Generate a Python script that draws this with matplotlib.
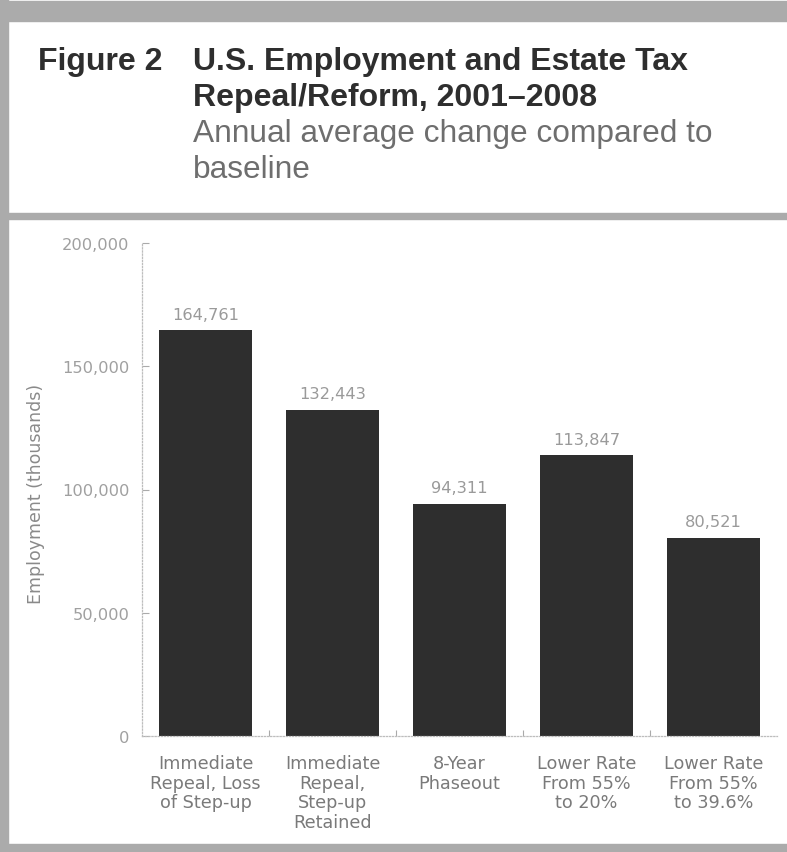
import matplotlib
matplotlib.use("Agg")
import matplotlib.pyplot as plt
from matplotlib.patches import Rectangle
from matplotlib.ticker import FuncFormatter, FixedLocator
import numpy as np

# Data
categories = [
    "Immediate\nRepeal, Loss\nof Step-up",
    "Immediate\nRepeal,\nStep-up\nRetained",
    "8-Year\nPhaseout",
    "Lower Rate\nFrom 55%\nto 20%",
    "Lower Rate\nFrom 55%\nto 39.6%",
]
employment = [164761, 132443, 94311, 113847, 80521]
y_ticks = [0, 50000, 100000, 150000, 200000]

W, H = 787, 853
fig = plt.figure(figsize=(W / 100, H / 100), dpi=100)
fig.patch.set_facecolor("white")


def px(x, y):
    """Pixel position (from top-left) to figure fraction."""
    return x / W, 1 - y / H


# Frame bands around the figure
band_color = "#ababab"
for (x0, y0, w, h) in [(0, 2, W, 20), (0, 214, W, 6), (0, 845, W, 7), (0, 0, 8, H)]:
    fig.patches.append(Rectangle((x0 / W, 1 - (y0 + h) / H), w / W, h / H,
                                 transform=fig.transFigure, color=band_color,
                                 zorder=0))

# Title block
title_font = "Liberation Sans"
title_color = "#2e2e2e"
fig.text(*px(38, 70), "Figure 2", family=title_font, fontsize=23,
         weight="bold", color=title_color, va="baseline", ha="left")
fig.text(*px(193, 70), "U.S. Employment and Estate Tax", family=title_font,
         fontsize=23, weight="bold", color=title_color, va="baseline", ha="left")
fig.text(*px(193, 106), "Repeal/Reform, 2001\u20132008", family=title_font,
         fontsize=23, weight="bold", color=title_color, va="baseline", ha="left")
fig.text(*px(193, 142), "Annual average change compared to", family=title_font,
         fontsize=22.8, color="#6e6e6e", va="baseline", ha="left")
fig.text(*px(193, 178), "baseline", family=title_font,
         fontsize=22.8, color="#6e6e6e", va="baseline", ha="left")

# Plot area
ax = fig.add_axes([142 / W, (H - 737) / H, (777 - 142) / W, (737 - 244) / H])
ax.set_facecolor("none")
x = np.arange(len(categories))
bars = ax.bar(x, employment, width=0.727, color="#2e2e2e", zorder=2)

ax.set_xlim(-0.5, len(categories) - 0.5)
ax.set_ylim(0, 200000)

for xi, v in zip(x, employment):
    ax.annotate(f"{v:,}", (xi, v), xytext=(0, 6), textcoords="offset points",
                ha="center", va="bottom", fontsize=11.7, color="#9a9a9a",
                family="DejaVu Sans")

for side in ("top", "right"):
    ax.spines[side].set_visible(False)
for side in ("left", "bottom"):
    ax.spines[side].set_color("#bdbdbd")
    ax.spines[side].set_linestyle((0, (1, 1.5)))
    ax.spines[side].set_linewidth(0.9)

ax.yaxis.set_major_locator(FixedLocator(y_ticks))
ax.yaxis.set_major_formatter(FuncFormatter(lambda v, p: f"{int(v):,}"))
ax.tick_params(axis="y", direction="in", length=5, width=0.8, color="#aaaaaa",
               labelsize=11.7, labelcolor="#a0a0a0", pad=9)

ax.set_xticks(x)
ax.set_xticklabels(categories)
ax.xaxis.set_minor_locator(FixedLocator(np.arange(0.5, len(categories) - 0.5, 1)))
ax.tick_params(axis="x", which="major", length=0, pad=13,
               labelsize=12.7, labelcolor="#7a7a7a")
ax.tick_params(axis="x", which="minor", direction="in", length=4, width=0.8,
               color="#aaaaaa")
for lbl in ax.get_xticklabels():
    lbl.set_linespacing(1.12)
    lbl.set_family("DejaVu Sans")
for lbl in ax.get_yticklabels():
    lbl.set_family("DejaVu Sans")

fig.text(*px(36, 494), "Employment (thousands)", rotation=90, ha="center",
         va="center", fontsize=12.5, color="#8a8a8a", family="DejaVu Sans")

fig.savefig("out.png", dpi=100, facecolor=fig.get_facecolor())
